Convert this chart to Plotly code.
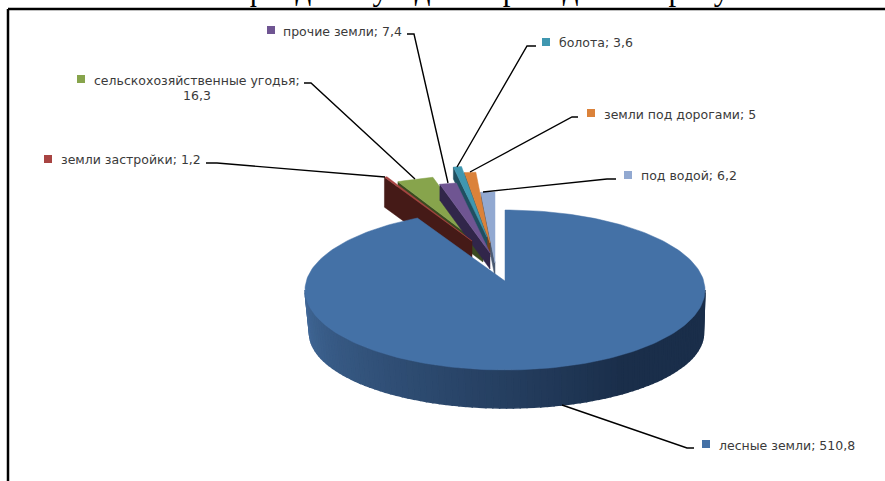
import math
import plotly.graph_objects as go

categories = ["лесные земли", "земли застройки", "сельскохозяйственные угодья",
              "прочие земли", "болота", "земли под дорогами", "под водой"]
values = [510.8, 1.2, 16.3, 7.4, 3.6, 5.0, 6.2]

top_colors = ["#4471a6", "#a84442", "#87a44c", "#6f5592", "#3f97b0", "#db823a", "#92a9d1"]
side_colors = ["#2c4a70", "#451a17", "#3a4a20", "#31264a", "#1f4f60", "#70421c", "#4b5a72"]

# presentation settings (pixel-like axes)
W, H = 885, 481
CX, CY, VY = 505, 290, 281
A, B = 200, 80
BACK_B = 71
explode = [(0, 0), (-33, -40), (-22, -35), (-15, -28), (-18, -44), (-15, -38), (-10, -18)]
side_depth = [38, 30, 16, 16, 12, 14, 14]
draw_order = [6, 5, 4, 2, 3, 1]

label_pos = [(719, 445), (61, 159), (94, 80), (283, 31), (559, 42), (604, 114), (641, 175)]
key_pos = [(706, 444), (48, 159), (81, 79), (271, 30), (546, 42), (591, 113), (628, 175)]
leaders = [[(694, 448), (687, 448), (562, 405)],
           [(206, 163), (217, 163), (385, 177)],
           [(304, 83), (311, 83), (415, 179)],
           [(407, 34), (414, 34), (448, 183)],
           [(536, 46), (527, 46), (457, 167)],
           [(578, 117), (572, 117), (470, 172)],
           [(616, 179), (607, 179), (483, 192)]]


def top(t):
    r = math.radians(t)
    return CX + A * math.sin(r), CY - B * math.cos(r)


def bottom(t):
    r = math.radians(t)
    return CX + 1.5 + 197 * math.sin(r), 333 - 75 * math.cos(r)


def poly(xs, ys, color, name, lw=0.5):
    return go.Scatter(x=xs, y=ys, mode="lines", fill="toself", fillcolor=color,
                      line=dict(color=color, width=lw), hoverinfo="text", text=name,
                      showlegend=False)


total = sum(values)
spans, a0 = [], 0.0
for v in values:
    a1 = a0 + v / total * 360
    spans.append((a0, a1))
    a0 = a1

fig = go.Figure()

# small exploded slices, from back to front
for i in draw_order:
    t0, t1 = spans[i]
    dx, dy = explode[i]
    vx, vy = CX + dx, VY + dy
    steps = [math.radians(t0 + (t1 - t0) * k / 6) for k in range(7)]
    xs = [vx + A * math.sin(t) for t in steps]
    ys = [vy - BACK_B * math.cos(t) for t in steps]
    d = side_depth[i]
    fig.add_trace(poly([xs[0], vx, vx, xs[0], xs[0]],
                       [ys[0], vy, vy + d, ys[0] + d, ys[0]], side_colors[i], categories[i]))
    fig.add_trace(poly([vx] + xs + [vx], [vy] + ys + [vy], top_colors[i], categories[i]))

# big slice: side wall with a shaded gradient, then its top face
t0, t1 = spans[0]
n = 90
for k in range(n):
    a = 90 + 180 * k / n
    b = 90 + 180 * (k + 1) / n
    f = k / (n - 1)
    s = min(1.0, max(0.0, (f - 0.3) / 0.7))
    c = tuple(round(u + (w - u) * s) for u, w in zip((26, 46, 74), (64, 103, 150)))
    col = "rgb(%d,%d,%d)" % c
    ta, tb = top(a), top(b)
    ba, bb = bottom(a), bottom(b)
    fig.add_trace(poly([ta[0], tb[0], bb[0], ba[0], ta[0]],
                       [ta[1], tb[1], bb[1], ba[1], ta[1]], col, categories[0], lw=1.5))

m = 240
arc = [top(t0 + (t1 - t0) * k / m) for k in range(m + 1)]
fig.add_trace(poly([CX] + [p[0] for p in arc] + [CX],
                   [VY] + [p[1] for p in arc] + [VY], top_colors[0], categories[0]))

# legend keys inside the data labels
for i in range(7):
    fig.add_trace(go.Scatter(x=[key_pos[i][0]], y=[key_pos[i][1]], mode="markers",
                             marker=dict(symbol="square", size=8, color=top_colors[i]),
                             hoverinfo="skip", showlegend=False))
    fig.add_trace(go.Scatter(x=[p[0] for p in leaders[i]], y=[p[1] for p in leaders[i]],
                             mode="lines", line=dict(color="black", width=1.4),
                             hoverinfo="skip", showlegend=False))

annotations = []
label_font = dict(family="DejaVu Sans", size=12.5, color="#3a3a3a")
for i in range(7):
    label = f"{categories[i]}; {values[i]:g}".replace(".", ",")
    if i == 2:
        label = f"{categories[i]};"
        annotations.append(dict(x=197, y=95, text=f"{values[i]:g}".replace(".", ","),
                                xanchor="center", yanchor="middle", showarrow=False,
                                font=label_font))
    annotations.append(dict(x=label_pos[i][0], y=label_pos[i][1], text=label,
                            xanchor="left", yanchor="middle", showarrow=False, xshift=-2,
                            font=label_font))

# clipped line of the page text above the chart frame
annotations.append(dict(x=12, y=9.5, yanchor="bottom", xanchor="left", showarrow=False,
                        text="а земель лесного фонда по угодьям приведена на рисунке",
                        font=dict(family="Liberation Serif", size=31, color="black")))

fig.update_layout(
    width=W, height=H, margin=dict(l=0, r=0, t=0, b=0),
    paper_bgcolor="white", plot_bgcolor="white", showlegend=False,
    xaxis=dict(range=[0, W], visible=False, fixedrange=True),
    yaxis=dict(range=[H, 0], visible=False, fixedrange=True),
    annotations=annotations,
    shapes=[dict(type="line", x0=8, x1=8, y0=9, y1=H, line=dict(color="black", width=2.5)),
            dict(type="line", x0=8, x1=W, y0=9, y1=9, line=dict(color="black", width=2.5))],
)
fig.write_html("out.html", config={"displayModeBar": False},
               post_script="document.body.style.margin='0';document.body.style.overflow='hidden';")
